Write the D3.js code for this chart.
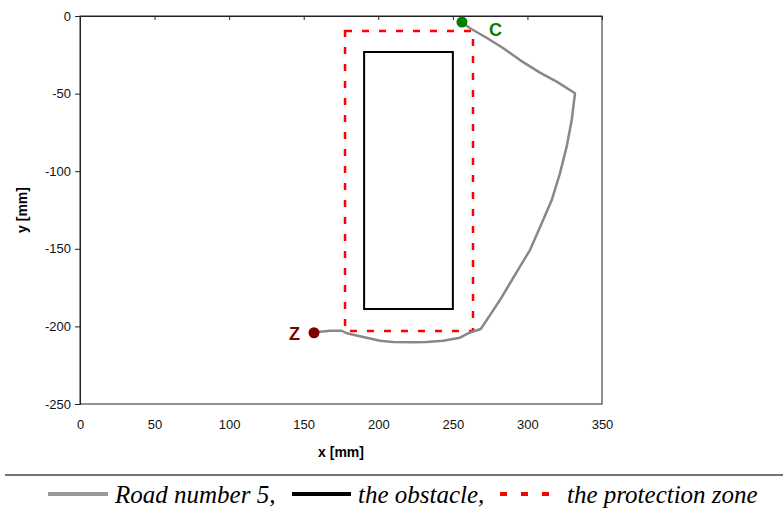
<!DOCTYPE html>
<html><head><meta charset="utf-8">
<script src="https://cdn.jsdelivr.net/npm/d3@7"></script>
<style>body{margin:0;background:#fff}</style>
</head><body>
<svg id="c" width="783" height="509"></svg>
<script>
const xTicks = [0,50,100,150,200,250,300,350];
const yTicks = [0,-50,-100,-150,-200,-250];
const roadX = [156.9,160.9,167.6,175.5,178.8,192.2,201.2,209.9,223.3,232.5,243.4,254.8,261.5,268.7,274.9,281.6,288.3,295.0,301.7,309.6,316.3,321.8,326.3,329.7,331.9,319.6,308.4,295.0,283.6,272.9,261.5,256.1];
const roadY = [-204.1,-203.4,-202.8,-202.8,-204.4,-207.3,-209.2,-210.1,-210.2,-210.1,-209.2,-207.3,-203.9,-201.7,-192.7,-183.0,-172.2,-161.5,-150.8,-133.6,-118.6,-101.4,-84.2,-67.0,-49.8,-42.3,-36.5,-28.4,-20.6,-14.2,-7.9,-3.9];
const obstacleX = [190.5,250];
const obstacleY = [-23.2,-188.8];
const zoneX = [177.7,263.5];
const zoneY = [-9.7,-203];
const pointNames = ["Z","C"];
const pointX = [156.9,256.1];
const pointY = [-204.1,-3.9];
const legendLabels = ["Road number 5,","the obstacle,","the protection zone"];

const svg = d3.select("#c");
const L=80,R=602,T=16,B=404;
const x = d3.scaleLinear().domain([0,350]).range([L,R]);
const y = d3.scaleLinear().domain([-250,0]).range([B,T]);
const fmt = d => String(d);

// frame
svg.append("rect").attr("x",L).attr("y",T).attr("width",R-L).attr("height",B-T)
  .attr("fill","none").attr("stroke","#222").attr("stroke-width",1);

// left axis
const ya = svg.append("g").attr("transform",`translate(${L},0)`)
  .call(d3.axisLeft(y).tickValues(yTicks).tickSize(5).tickPadding(4).tickFormat(fmt));
ya.select(".domain").attr("stroke","#222");
ya.selectAll(".tick line").attr("stroke","#222");
ya.selectAll("text").attr("font-family","Liberation Sans, Arial").attr("font-size",13).attr("fill","#111");

// top axis with inward ticks (axis at y=0)
const ta = svg.append("g").attr("transform",`translate(0,${y(0)})`)
  .call(d3.axisBottom(x).tickValues(xTicks.slice(1,-1)).tickSize(4).tickFormat(""));
ta.select(".domain").attr("stroke","#222");
ta.selectAll(".tick line").attr("stroke","#222");

// bottom tick labels
const ba = svg.append("g").attr("transform",`translate(0,${B})`)
  .call(d3.axisBottom(x).tickValues(xTicks).tickSize(0).tickPadding(16).tickFormat(fmt));
ba.select(".domain").remove();
ba.selectAll("text").attr("font-family","Liberation Sans, Arial").attr("font-size",13).attr("fill","#111");

// axis titles
svg.append("text").attr("x",341).attr("y",457).attr("text-anchor","middle")
  .attr("font-family","Liberation Sans, Arial").attr("font-weight","bold").attr("font-size",14).text("x [mm]");
svg.append("text").attr("transform",`translate(27,${(T+B)/2}) rotate(-90)`).attr("text-anchor","middle")
  .attr("font-family","Liberation Sans, Arial").attr("font-weight","bold").attr("font-size",14).text("y [mm]");

// protection zone
svg.append("rect").attr("x",x(zoneX[0])).attr("y",y(zoneY[0]))
  .attr("width",x(zoneX[1])-x(zoneX[0])).attr("height",y(zoneY[1])-y(zoneY[0]))
  .attr("fill","none").attr("stroke","#ff0000").attr("stroke-width",2.5).attr("stroke-dasharray","7,10");

// obstacle
svg.append("rect").attr("x",x(obstacleX[0])).attr("y",y(obstacleY[0]))
  .attr("width",x(obstacleX[1])-x(obstacleX[0])).attr("height",y(obstacleY[1])-y(obstacleY[0]))
  .attr("fill","none").attr("stroke","#000").attr("stroke-width",2);

// road
const road = roadX.map((d,i)=>[d,roadY[i]]);
svg.append("path").datum(road)
  .attr("d",d3.line().x(d=>x(d[0])).y(d=>y(d[1])).curve(d3.curveLinear))
  .attr("fill","none").attr("stroke","#888").attr("stroke-width",2.5).attr("stroke-linejoin","round");

// points
const pcol = ["#800000","#008000"];
pointNames.forEach((n,i)=>{
  svg.append("circle").attr("cx",x(pointX[i])).attr("cy",y(pointY[i])).attr("r",5.5).attr("fill",pcol[i]);
});
svg.append("text").attr("x",x(pointX[0])-14).attr("y",y(pointY[0])+7).attr("text-anchor","end")
  .attr("font-family","Liberation Sans, Arial").attr("font-weight","bold").attr("font-size",18).attr("fill",pcol[0]).text(pointNames[0]);
svg.append("text").attr("x",x(pointX[1])+27).attr("y",y(pointY[1])+14)
  .attr("font-family","Liberation Sans, Arial").attr("font-weight","bold").attr("font-size",18).attr("fill",pcol[1]).text(pointNames[1]);

// legend separator
svg.append("line").attr("x1",5).attr("x2",783).attr("y1",475).attr("y2",475).attr("stroke","#444").attr("stroke-width",1.5);

// legend
const lg = svg.append("g");
const sampleY = 494;
lg.append("line").attr("x1",48).attr("x2",108).attr("y1",sampleY).attr("y2",sampleY).attr("stroke","#999").attr("stroke-width",4);
lg.append("line").attr("x1",292).attr("x2",351).attr("y1",sampleY).attr("y2",sampleY).attr("stroke","#000").attr("stroke-width",4);
lg.append("line").attr("x1",500).attr("x2",557).attr("y1",sampleY).attr("y2",sampleY).attr("stroke","#ff0000").attr("stroke-width",4).attr("stroke-dasharray","7,14");
const lx = [115,358,567];
legendLabels.forEach((t,i)=>{
  lg.append("text").attr("x",lx[i]).attr("y",503).attr("font-family","Liberation Serif, Times New Roman, serif")
    .attr("font-style","italic").attr("font-size",25).attr("fill","#000").text(t);
});
</script>
</body></html>
